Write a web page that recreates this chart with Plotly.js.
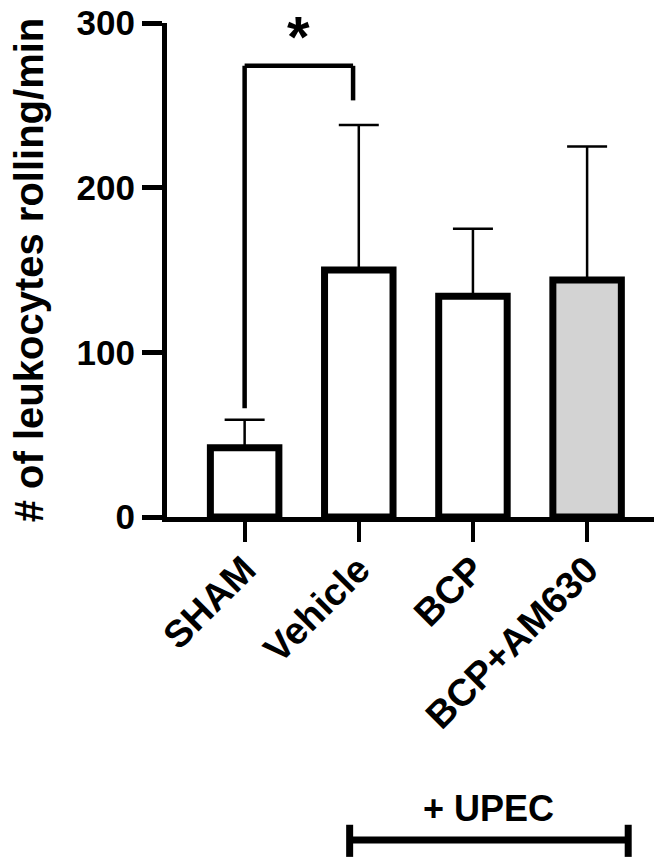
<!DOCTYPE html>
<html>
<head>
<meta charset="utf-8">
<script src="https://cdn.plot.ly/plotly-3.0.1.min.js"></script>
<style>
  html, body { margin: 0; padding: 0; background: #ffffff; }
  #chart { width: 654px; height: 858px; }
</style>
</head>
<body>
<div id="chart"></div>
<script>
// ---- data ----
const categories = ["SHAM", "Vehicle", "BCP", "BCP+AM630"];
const meanValues = [42, 150, 134, 144];
const semValues  = [17, 88, 41, 81];
const barColors  = ["#ffffff", "#ffffff", "#ffffff", "#d3d3d3"];
const yTickValues = [0, 100, 200, 300];
const yTitle = "# of leukocytes rolling/min";
// significance bracket: SHAM vs Vehicle
const sigPair = [0, 0.95];          // category positions joined
const sigLevel = 274;               // bracket height (y units)
const sigEnds = [66, 253];          // lower ends of the two legs
const sigLabel = "*";
const groupLabel = "+ UPEC";
const groupSpan = [0.92, 3.36];     // category span covered by the group line

const xRange = [-0.68, 3.586];
const FONT = "Liberation Sans, Arial, sans-serif";

function paperX(v) { return (v - xRange[0]) / (xRange[1] - xRange[0]); }

const trace = {
  type: "bar",
  x: categories.map((c, i) => i),
  y: meanValues,
  width: 0.6,
  marker: { color: barColors, line: { color: "#000000", width: 7 } },
  error_y: {
    type: "data",
    symmetric: false,
    array: semValues,
    arrayminus: semValues.map(() => 0),
    color: "#000000",
    thickness: 2.5,
    width: 20
  },
  hoverinfo: "none",
  showlegend: false
};

const layout = {
  width: 654,
  height: 858,
  margin: { l: 167, r: 0, t: 23, b: 341 },
  paper_bgcolor: "#ffffff",
  plot_bgcolor: "#ffffff",
  showlegend: false,
  xaxis: {
    range: xRange,
    tickmode: "array",
    tickvals: categories.map((c, i) => i),
    ticktext: categories,
    tickangle: -45,
    ticklabelstandoff: -10,
    tickfont: { family: FONT, size: 38, color: "#000000", weight: "bold" },
    showline: true, linecolor: "#000000", linewidth: 5,
    ticks: "outside", ticklen: 20, tickwidth: 4, tickcolor: "#000000",
    showgrid: false, zeroline: false, fixedrange: true
  },
  yaxis: {
    range: [0, 300],
    tickmode: "array",
    tickvals: yTickValues,
    ticktext: yTickValues.map(String),
    tickfont: { family: FONT, size: 35, color: "#000000", weight: "bold" },
    showline: true, linecolor: "#000000", linewidth: 5,
    ticks: "outside", ticklen: 20, tickwidth: 5, tickcolor: "#000000",
    showgrid: false, zeroline: false, fixedrange: true,
    title: { text: yTitle, font: { family: FONT, size: 40, color: "#000000", weight: "bold" }, standoff: 22 }
  },
  shapes: [
    // significance bracket
    { type: "line", xref: "x", yref: "y", x0: sigPair[0], x1: sigPair[0], y0: sigEnds[0], y1: sigLevel, line: { color: "#000000", width: 4.5 } },
    { type: "line", xref: "x", yref: "y", x0: sigPair[0], x1: sigPair[1], y0: sigLevel, y1: sigLevel, line: { color: "#000000", width: 4.5 } },
    { type: "line", xref: "x", yref: "y", x0: sigPair[1], x1: sigPair[1], y0: sigLevel, y1: sigEnds[1], line: { color: "#000000", width: 4.5 } },
    // + UPEC group line
    { type: "line", xref: "paper", yref: "paper", x0: paperX(groupSpan[0]), x1: paperX(groupSpan[1]), y0: -0.654, y1: -0.654, line: { color: "#000000", width: 7 } },
    { type: "line", xref: "paper", yref: "paper", x0: paperX(groupSpan[0]), x1: paperX(groupSpan[0]), y0: -0.623, y1: -0.688, line: { color: "#000000", width: 7 } },
    { type: "line", xref: "paper", yref: "paper", x0: paperX(groupSpan[1]), x1: paperX(groupSpan[1]), y0: -0.623, y1: -0.688, line: { color: "#000000", width: 7 } }
  ],
  annotations: [
    { text: sigLabel, xref: "x", yref: "paper", x: (sigPair[0] + sigPair[1]) / 2, y: 1, yshift: 20, showarrow: false,
      font: { family: FONT, size: 58, color: "#000000", weight: "bold" }, yanchor: "top", borderpad: 0 },
    { text: groupLabel, xref: "paper", yref: "paper", x: paperX((groupSpan[0] + groupSpan[1]) / 2), y: -0.591, showarrow: false,
      font: { family: FONT, size: 36, color: "#000000", weight: "bold" }, xanchor: "center", yanchor: "middle" }
  ]
};

Plotly.newPlot("chart", [trace], layout, { staticPlot: true, displayModeBar: false });
</script>
</body>
</html>
